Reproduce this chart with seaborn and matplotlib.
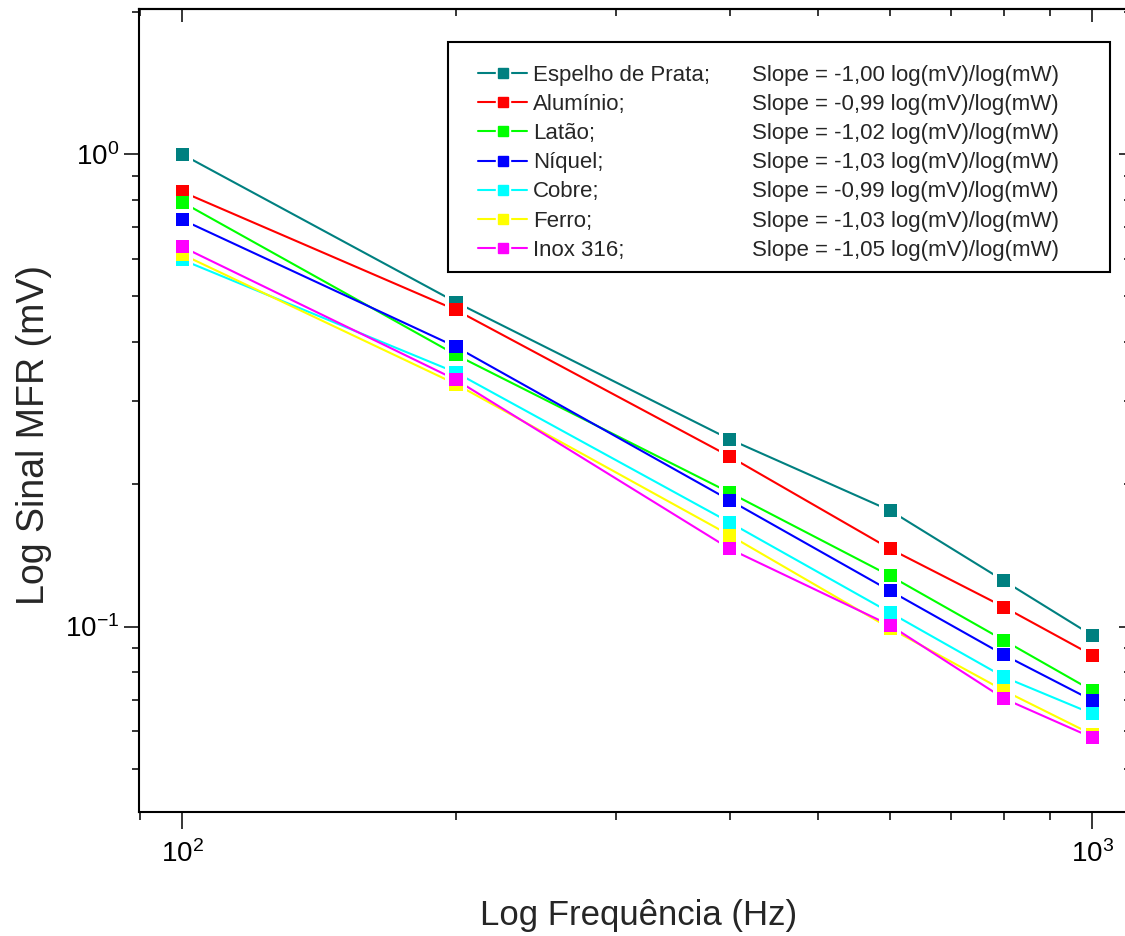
import numpy as np
import pandas as pd
import matplotlib
matplotlib.use("Agg")
import matplotlib.pyplot as plt
import seaborn as sns
from matplotlib.lines import Line2D
from matplotlib.patches import Rectangle
from matplotlib.legend_handler import HandlerTuple
from matplotlib.ticker import NullFormatter

# Frequencies (Hz) and MFR signal (mV) for each reflecting surface
frequencies = [100, 200, 400, 600, 800, 1000]
materials = ["Espelho de Prata", "Alumínio", "Latão", "Níquel", "Cobre", "Ferro", "Inox 316"]
slopes = ["-1,00", "-0,99", "-1,02", "-1,03", "-0,99", "-1,03", "-1,05"]
colors = ["#008080", "#FF0000", "#00FF00", "#0000FF", "#00FFFF", "#FFFF00", "#FF00FF"]

espelho = [1.00, 0.486, 0.249, 0.176, 0.125, 0.0958]
aluminio = [0.833, 0.468, 0.229, 0.146, 0.110, 0.0870]
latao = [0.792, 0.376, 0.192, 0.128, 0.0935, 0.0732]
niquel = [0.727, 0.391, 0.185, 0.119, 0.0871, 0.0698]
cobre = [0.598, 0.345, 0.166, 0.107, 0.0782, 0.0654]
ferro = [0.614, 0.326, 0.156, 0.0991, 0.0732, 0.0591]
inox = [0.637, 0.333, 0.146, 0.1006, 0.0704, 0.0582]

series = [espelho, aluminio, latao, niquel, cobre, ferro, inox]

df = pd.DataFrame({
    "freq": np.tile(frequencies, len(materials)),
    "signal": np.concatenate(series),
    "material": np.repeat(materials, len(frequencies)),
})

sns.set_theme(style="ticks")
plt.rcParams["font.family"] = ["Liberation Sans", "DejaVu Sans"]
plt.rcParams["mathtext.fontset"] = "custom"
plt.rcParams["mathtext.rm"] = "Liberation Sans"
plt.rcParams["mathtext.it"] = "Liberation Sans:italic"
plt.rcParams["mathtext.bf"] = "Liberation Sans:bold"
plt.rcParams["axes.edgecolor"] = "black"
plt.rcParams["axes.linewidth"] = 1.5
plt.rcParams["xtick.color"] = "black"
plt.rcParams["ytick.color"] = "black"

fig = plt.figure(figsize=(11.25, 9.36), dpi=100)
ax = fig.add_axes([0.1236, 0.1325, 0.8794, 0.8579])

palette = dict(zip(materials, colors))

# connecting lines
sns.lineplot(data=df, x="freq", y="signal", hue="material", hue_order=materials,
             palette=palette, lw=1.5, legend=False, ax=ax, zorder=1,
             estimator=None, sort=False)
# white backing squares leave a small gap between lines and markers
sns.scatterplot(data=df, x="freq", y="signal", color="white", marker="s", s=230,
                linewidth=0, legend=False, ax=ax, zorder=2)
# square markers
sns.scatterplot(data=df, x="freq", y="signal", hue="material", hue_order=materials,
                palette=palette, marker="s", s=88, linewidth=0, legend=False,
                ax=ax, zorder=3)

ax.set_xscale("log")
ax.set_yscale("log")
ax.set_xlim(89.7, 1096)
ax.set_ylim(0.0405, 2.03)

ax.tick_params(axis="x", which="major", direction="out", length=12, width=1.1,
               pad=8, labelsize=20, top=False)
ax.tick_params(axis="x", which="minor", direction="out", length=6, width=1.1, top=False)
ax.tick_params(axis="y", which="major", direction="out", length=10.5, width=1.1,
               pad=4, labelsize=20, right=False)
ax.tick_params(axis="y", which="minor", direction="out", length=5, width=1.1, right=False)
ax.xaxis.set_minor_formatter(NullFormatter())
ax.yaxis.set_minor_formatter(NullFormatter())

# inward ticks on the top and right edges
ident = (lambda v: v, lambda v: v)
top = ax.secondary_xaxis("top", functions=ident)
top.tick_params(which="major", direction="in", length=9, width=1.1, labeltop=False)
top.tick_params(which="minor", direction="in", length=5, width=1.1)
top.xaxis.set_minor_formatter(NullFormatter())
right = ax.secondary_yaxis("right", functions=ident)
right.tick_params(which="major", direction="in", length=6.5, width=1.1, labelright=False)
right.tick_params(which="minor", direction="in", length=3, width=1.1)
right.yaxis.set_minor_formatter(NullFormatter())

ax.set_xlabel("Log Frequência (Hz)", fontsize=25)
ax.set_ylabel("Log Sinal MFR (mV)", fontsize=27)
ax.xaxis.set_label_coords(0.505, -0.108)
ax.yaxis.set_label_coords(-0.088, 0.47)

# legend box: material names with their fitted slopes in a second column
box = Rectangle((0.312, 0.6725), 0.669, 0.2864, transform=ax.transAxes,
                facecolor="white", edgecolor="black", lw=1.5, zorder=4)
ax.add_patch(box)

name_handles = [
    (Line2D([], [], color=c, lw=1.5),
     Line2D([], [], ls="", marker="s", ms=10, mfc="white", mec="white"),
     Line2D([], [], ls="", marker="s", ms=6.5, mfc=c, mec=c))
    for c in colors
]
blank = [Line2D([], [], color="none") for _ in materials]
name_labels = [m + ";" for m in materials]
slope_labels = [f"Slope = {s} log(mV)/log(mW)" for s in slopes]

common = dict(loc="upper left", borderaxespad=0, borderpad=0, labelspacing=0.365,
              fontsize=16, frameon=False)
leg_names = ax.legend(name_handles, name_labels, bbox_to_anchor=(0.3428, 0.9303),
                      handler_map={tuple: HandlerTuple(ndivide=1, pad=0)},
                      handlelength=2.2, handletextpad=0.27, **common)
leg_names.set_zorder(5)
ax.add_artist(leg_names)
leg_slopes = ax.legend(blank, slope_labels, bbox_to_anchor=(0.6198, 0.9303),
                       handlelength=0, handletextpad=0, **common)
leg_slopes.set_zorder(5)

fig.savefig("out.png", dpi=100, facecolor="white")
